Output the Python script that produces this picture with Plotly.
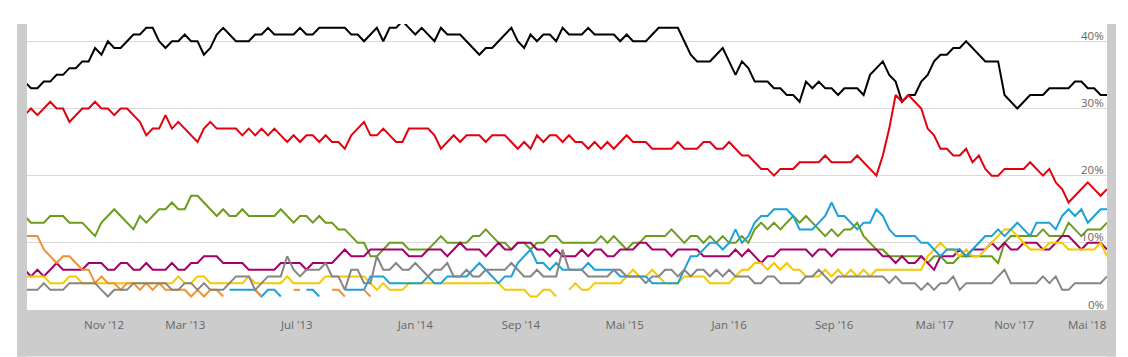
import plotly.graph_objects as go

N = 170
idx = list(range(N))

cdu = [34,33,33,34,34,35,35,36,36,37,
       37,39,38,40,39,39,40,41,41,42,
       42,40,39,40,40,41,40,40,38,39,
       41,42,41,40,40,40,41,41,42,41,
       41,41,41,42,41,41,42,42,42,42,
       42,41,41,40,41,42,40,42,42,43,
       42,41,42,41,40,42,41,41,41,40,
       39,38,39,39,40,41,42,40,39,41,
       40,41,41,40,42,41,41,41,42,41,
       41,41,41,40,41,40,40,40,41,42,
       42,42,42,40,38,37,37,37,38,39,
       37,35,37,36,34,34,34,33,33,32,
       32,31,34,33,34,33,33,32,33,33,
       33,32,35,36,37,35,34,31,32,32,
       34,35,37,38,38,39,39,40,39,38,
       37,37,37,32,31,30,31,32,32,32,
       33,33,33,33,34,34,33,33,32,32]

spd = [29,30,29,30,31,30,30,28,29,30,
       30,31,30,30,29,30,30,29,28,26,
       27,27,29,27,28,27,26,25,27,28,
       27,27,27,27,26,27,26,27,26,27,
       26,25,26,25,26,26,25,26,25,25,
       24,26,27,28,26,26,27,26,25,25,
       27,27,27,27,26,24,25,26,25,26,
       26,26,25,26,26,26,25,24,25,24,
       26,25,26,26,25,26,25,25,24,25,
       24,25,24,25,26,25,25,25,24,24,
       24,24,25,24,24,24,25,25,24,24,
       25,24,23,23,22,21,21,20,21,21,
       21,22,22,22,22,23,22,22,22,22,
       23,22,21,20,23,27,32,31,32,31,
       30,27,26,24,24,23,23,24,22,23,
       21,20,20,21,21,21,21,22,21,20,
       21,19,18,16,17,18,19,18,17,18]

gruene = [14,13,13,13,14,14,14,13,13,13,
          12,11,13,14,15,14,13,12,14,13,
          14,15,15,16,15,15,17,17,16,15,
          14,15,14,14,15,14,14,14,14,14,
          15,14,13,14,14,13,14,13,13,12,
          12,11,10,10,8,8,9,10,10,10,
          9,9,9,9,10,11,10,10,10,10,
          11,11,12,11,10,10,9,10,10,9,
          10,10,11,11,10,10,10,10,10,10,
          11,10,11,10,9,10,10,11,11,11,
          11,12,11,10,11,11,10,11,10,11,
          10,10,11,10,12,13,12,13,12,13,
          14,13,14,13,12,11,12,11,12,12,
          13,11,10,9,9,8,8,8,8,8,
          8,7,8,8,7,7,8,8,8,8,
          8,8,7,10,11,11,11,11,11,12,
          11,11,11,13,12,11,12,12,12,13]

linke = [6,5,6,5,6,7,6,6,6,6,
         7,7,7,6,6,7,7,6,6,7,
         6,6,6,7,6,6,7,7,8,8,
         8,7,7,7,7,6,6,6,6,6,
         7,7,7,7,6,7,7,7,7,8,
         9,8,8,8,9,9,9,9,9,9,
         8,8,8,9,9,9,8,9,10,9,
         9,9,8,9,10,9,9,10,10,10,
         9,9,8,9,8,8,8,9,8,9,
         9,8,8,9,9,9,10,10,9,9,
         9,8,9,9,9,9,8,8,8,8,
         8,9,8,9,8,7,8,8,9,9,
         9,9,9,8,9,9,8,9,9,9,
         9,9,9,9,8,8,7,8,7,7,
         8,7,6,8,8,8,9,8,9,9,
         9,10,9,10,9,9,10,10,10,9,
         9,10,11,11,10,9,10,10,10,9]

fdp = [5,5,5,5,4,4,4,5,5,4,
       4,4,4,4,4,4,4,4,4,4,
       4,4,4,4,5,4,4,5,5,4,
       4,4,4,4,4,5,4,4,4,4,
       4,5,4,4,4,4,4,5,5,5,
       5,5,5,5,4,3,4,3,3,3,
       4,4,4,4,4,4,4,4,4,4,
       4,4,4,4,4,3,3,3,3,2,
       2,3,3,2,None,3,4,3,3,4,
       4,4,4,4,5,6,5,5,6,5,
       4,4,4,5,5,5,5,4,4,4,
       4,5,6,6,7,7,6,7,6,7,
       6,6,5,5,5,6,5,6,5,6,
       5,6,5,6,6,6,6,6,6,6,
       6,8,9,10,9,9,8,9,8,8,
       9,10,11,12,12,11,10,9,9,9,
       10,10,10,9,9,9,9,9,10,8]

afd = ([None] * 32 +
       [3,3,3,3,3,2,3,3,2] +
       [None] * 3 +
       [3,3,2] +
       [None] * 3 +
       [3,3,3,3,5,5,5,4,4,4,
        4,4,4,5,4,4,5,5,5,5,
        6,7,6,5,4,5,5,7,8,9,
        7,7,6,7,6,6,6,6,7,6,
        6,6,6,5,5,5,5,5,4,4,
        4,4,4,6,8,8,9,10,10,9,
        10,12,10,11,13,14,14,15,15,15,
        14,12,12,12,13,14,16,14,14,13,
        12,13,13,15,14,12,11,11,11,11,
        10,10,9,8,9,9,9,8,9,10,
        11,11,12,11,12,13,12,11,13,13,
        13,12,14,15,14,15,13,14,15,15])

piraten = ([11,11,11,9,8,7,8,8,7,6,
            6,4,5,4,4,3,4,4,3,4,
            3,4,3,3,3,3,2,3,2,3,
            3,2] +
           [None] * 4 + [3,2] +
           [None] * 4 + [3,3] +
           [None] * 4 + [3,3,2] +
           [None] * 2 + [3,2] +
           [None] * 115)

sonstige = [3,3,3,4,3,3,3,4,4,4,
            4,4,3,2,3,3,3,4,4,4,
            4,4,4,3,3,4,4,3,4,3,
            3,3,4,5,5,5,3,4,5,5,
            5,8,6,5,6,6,6,7,5,5,
            3,6,6,4,4,8,6,6,7,6,
            6,7,6,5,6,6,7,5,5,6,
            5,5,6,6,6,6,7,6,5,5,
            6,5,5,5,9,6,6,6,5,5,
            5,5,6,6,5,5,5,4,5,5,
            6,6,5,6,5,6,6,5,6,5,
            6,5,5,5,4,4,5,5,4,4,
            4,4,5,5,6,5,4,5,5,5,
            5,5,5,5,5,4,5,4,4,4,
            3,4,3,4,4,5,3,4,4,4,
            4,4,5,6,4,4,4,4,4,5,
            4,5,3,3,4,4,4,4,4,5]

tick_pos = [12.4, 25.1, 42.5, 61.0, 77.5, 93.7, 110.0, 126.4, 142.1, 154.5, 165.9]
tick_labels = ["Nov '12", "Mar '13", "Jul '13", "Jan '14", "Sep '14", "Mai '15",
               "Jan '16", "Sep '16", "Mai '17", "Nov '17", "Mai '18"]
y_ticks = [0, 10, 20, 30, 40]
y_labels = ["0%", "10%", "20%", "30%", "40%"]

series = [
    ("CDU/CSU", cdu, "#000000"),
    ("SPD", spd, "#e3000f"),
    ("Grüne", gruene, "#6a9c1c"),
    ("Linke", linke, "#a4006a"),
    ("FDP", fdp, "#f5c800"),
    ("AfD", afd, "#1ba1d8"),
    ("Piraten", piraten, "#ee9133"),
    ("Sonstige", sonstige, "#858585"),
]
for name, vals, _ in series:
    assert len(vals) == N, (name, len(vals))

fig = go.Figure()
for name, vals, col in series:
    fig.add_trace(go.Scatter(x=idx, y=vals, mode="lines", name=name,
                             line=dict(color=col, width=2),
                             connectgaps=False, hoverinfo="skip"))

# page body has an 8px margin: figure sits at (8, 8) in the window
W, H = 1120, 349
L, R, T, B = 19, 21, 16, 46.5
pw = W - L - R
ph = H - T - B
gx0 = (9 - L) / pw
gx1 = (1108 - L) / pw
gy0 = -(B) / ph
grey = "#cccccc"
label_font = dict(family="Open Sans, DejaVu Sans, sans-serif", size=11.5, color="#666666")

annotations = [
    dict(x=1, xref="paper", y=v, yref="y", text=t, showarrow=False,
         xanchor="right", yanchor="middle", xshift=-1, yshift=6,
         font=label_font)
    for v, t in zip(y_ticks, y_labels)
]

fig.update_layout(
    width=W, height=H,
    margin=dict(l=L, r=R, t=T, b=B, pad=0),
    paper_bgcolor="white", plot_bgcolor="white",
    showlegend=False,
    font=label_font,
    annotations=annotations,
    shapes=[
        dict(type="rect", xref="paper", yref="paper", x0=gx0, x1=0, y0=gy0, y1=1,
             fillcolor=grey, line=dict(width=0), layer="below"),
        dict(type="rect", xref="paper", yref="paper", x0=1, x1=gx1, y0=gy0, y1=1,
             fillcolor=grey, line=dict(width=0), layer="below"),
        dict(type="rect", xref="paper", yref="paper", x0=gx0, x1=gx1, y0=gy0, y1=0,
             fillcolor=grey, line=dict(width=0), layer="below"),
    ],
    xaxis=dict(range=[0.375, 169], showgrid=False, zeroline=False, showline=False,
               tickmode="array", tickvals=tick_pos, ticktext=tick_labels,
               ticks="", ticklabelstandoff=6, fixedrange=True),
    yaxis=dict(range=[0, 42.57], side="right", tickmode="array",
               tickvals=y_ticks, showticklabels=False,
               showgrid=True, gridcolor="#d9d9d9", gridwidth=1,
               zeroline=False, showline=False, ticks="",
               fixedrange=True),
)

fig.write_html("out.html")
